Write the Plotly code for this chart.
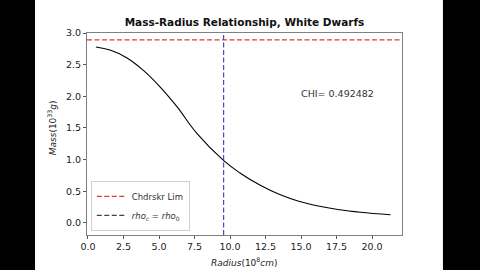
import plotly.graph_objects as go

# Data
radius = [0.56, 1.55, 2.72, 3.9, 5.07, 6.25, 7.65, 9.58, 10.7, 12.1, 13.5, 14.9, 16.3, 17.7, 19.2, 21.3]
mass = [2.78, 2.73, 2.61, 2.41, 2.15, 1.84, 1.42, 0.98, 0.79, 0.60, 0.45, 0.34, 0.265, 0.21, 0.17, 0.13]
chandra_limit = 2.89
rho0_radius = 9.55
chi_value = 0.492482
x_ticks = [0.0, 2.5, 5.0, 7.5, 10.0, 12.5, 15.0, 17.5, 20.0]
y_ticks = [0.0, 0.5, 1.0, 1.5, 2.0, 2.5, 3.0]
x_range = [-0.07, 22.11]
y_range = [-0.19, 3.0]

FONT = "DejaVu Sans"
fig = go.Figure()

fig.add_trace(go.Scatter(x=radius, y=mass, mode="lines",
                         line=dict(color="black", width=1.1, shape="spline", smoothing=1.1),
                         showlegend=False))
fig.add_trace(go.Scatter(x=x_range, y=[chandra_limit, chandra_limit], mode="lines",
                         line=dict(color="#e03a3a", width=1.2, dash="5px,2.5px"), name="Chdrskr Lim"))
fig.add_trace(go.Scatter(x=[rho0_radius, rho0_radius], y=y_range, mode="lines",
                         line=dict(color="#4848d0", width=1.2, dash="5px,2.5px"), showlegend=False))
fig.add_trace(go.Scatter(x=[None], y=[None], mode="lines",
                         line=dict(color="#444444", width=1.2, dash="5px,2.5px"),
                         name="<i>rho</i><sub><i>c</i></sub> = <i>rho</i><sub>0</sub>"))

axis_common = dict(showline=True, mirror=True, linecolor="#808080", linewidth=1, showgrid=False, zeroline=False,
                   ticks="outside", ticklen=3, tickcolor="#555", tickfont=dict(family=FONT, size=9.5, color="#222"))
fig.update_xaxes(range=x_range, tickvals=x_ticks, ticktext=[f"{v:.1f}" for v in x_ticks], **axis_common)
fig.update_yaxes(range=y_range, tickvals=y_ticks, ticktext=[f"{v:.1f}" for v in y_ticks], **axis_common)

fig.update_layout(
    width=480, height=270,
    margin=dict(l=87, r=78, t=33, b=35),
    paper_bgcolor="black", plot_bgcolor="white",
    font=dict(family=FONT, color="#222"),
    title=dict(text="<b>Mass-Radius Relationship, White Dwarfs</b>", x=0.5, xref="paper", xanchor="center",
               y=0.9185, yref="container", yanchor="middle", font=dict(family=FONT, size=10.5, color="#111")),
    legend=dict(x=0.012, y=0.02, xanchor="left", yanchor="bottom", bgcolor="white", bordercolor="#d0d0d0",
                borderwidth=1, font=dict(family=FONT, size=8.5, color="#333"), tracegroupgap=0),
    shapes=[dict(type="rect", xref="paper", yref="paper", x0=-0.165, x1=1.130, y0=-0.2, y1=1.2,
                 fillcolor="white", line=dict(width=0), layer="below")],
    annotations=[
        dict(text=f"CHI= {chi_value}", x=17.57, y=2.05, xref="x", yref="y", showarrow=False,
             font=dict(family=FONT, size=9.5, color="#333")),
        dict(text="<i>Radius</i>(10<sup>8</sup><i>cm</i>)", x=0.5, y=-0.135, xref="paper", yref="paper",
             yanchor="middle", showarrow=False, font=dict(family=FONT, size=9, color="#222")),
        dict(text="<i>Mass</i>(10<sup>33</sup><i>g</i>)", x=-0.11, y=0.53, xref="paper", yref="paper",
             textangle=-90, xanchor="center", showarrow=False, font=dict(family=FONT, size=9, color="#222")),
    ],
)

fig.write_html("out.html")
